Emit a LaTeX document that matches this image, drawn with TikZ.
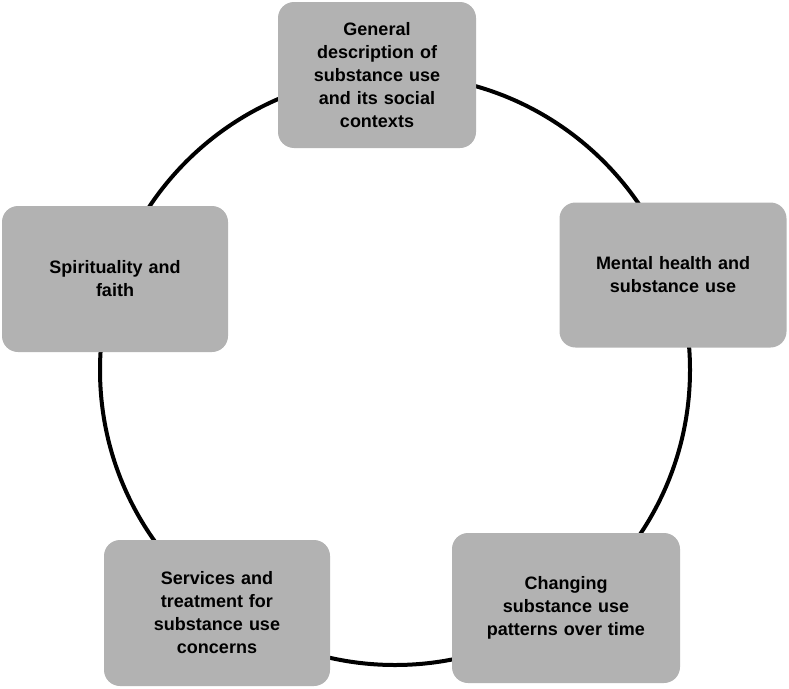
\documentclass[tikz,border=0pt]{standalone}
\usepackage{fontspec}
\setmainfont{Liberation Sans}
\begin{document}
\begin{tikzpicture}[x=1pt,y=-1pt,
  box/.style={fill=black!30, rounded corners=16pt, align=center, font=\bfseries\fontsize{18}{23}\selectfont, inner sep=0pt}]
\useasboundingbox (0,0) rectangle (789,688);
\draw[line width=4pt] (395,370) circle (295);
\node[box, minimum width=198pt, minimum height=146pt, text width=180pt] (a) at (377,75) {General\\description of\\substance use\\and its social\\contexts};
\node[box, minimum width=227pt, minimum height=145pt, text width=200pt] (b) at (673,275) {Mental health and\\substance use};
\node[box, minimum width=228pt, minimum height=150pt, text width=210pt] (c) at (566,608) {Changing\\substance use\\patterns over time};
\node[box, minimum width=226pt, minimum height=146pt, text width=210pt] (d) at (217,613) {Services and\\treatment for\\substance use\\concerns};
\node[box, minimum width=226pt, minimum height=146pt, text width=200pt] (e) at (115,279) {Spirituality and\\faith};
\end{tikzpicture}
\end{document}
